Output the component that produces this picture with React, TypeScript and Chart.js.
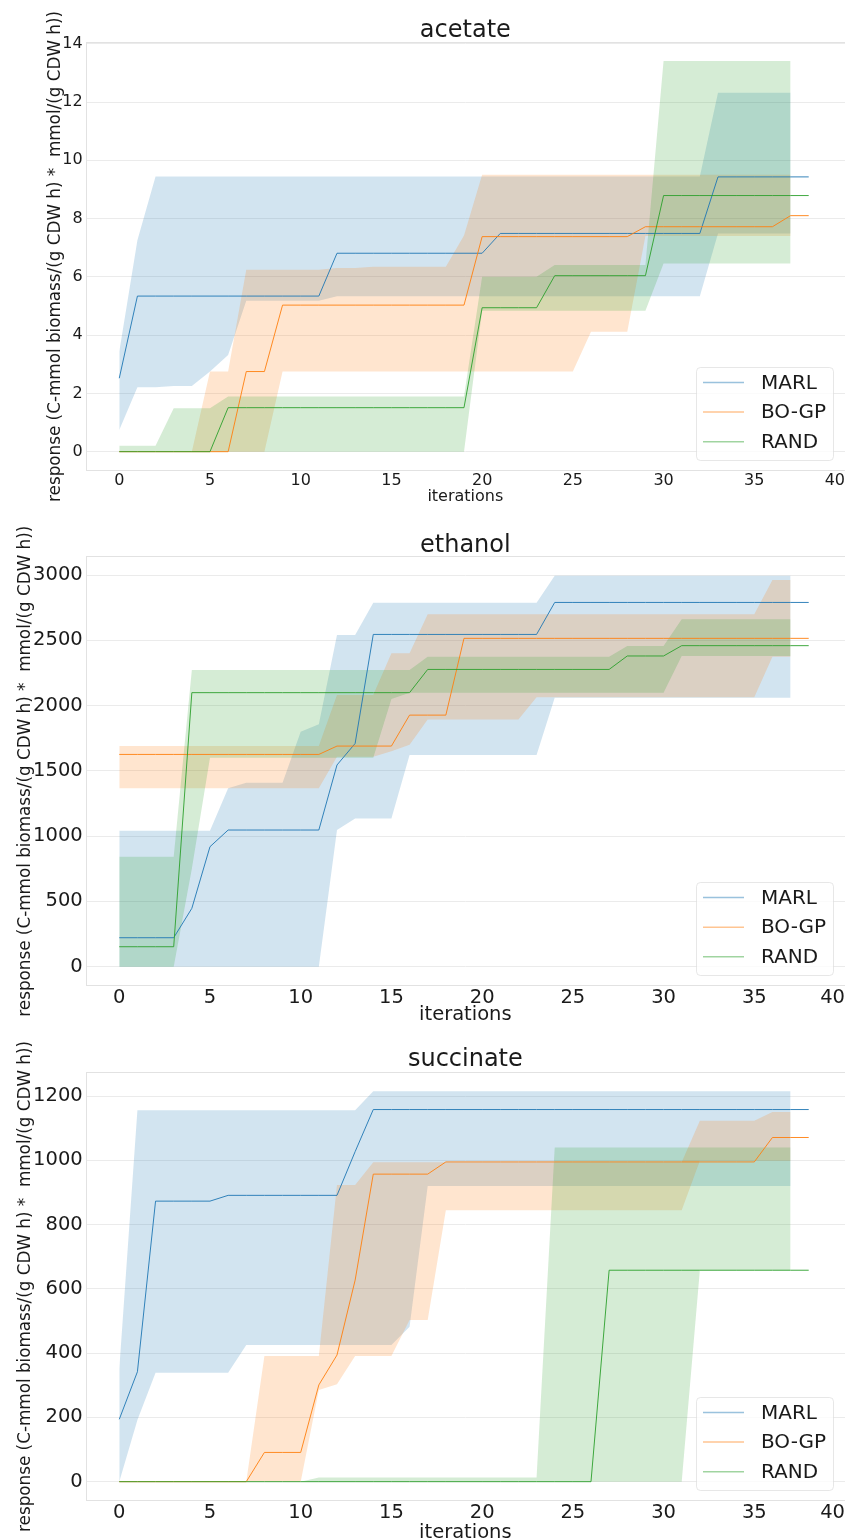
import React, { useEffect, useRef } from 'react';
import { Chart, registerables } from 'chart.js';

Chart.register(...registerables);

// ---------- shared axes ----------
const LINE_X = [0, 1, 2, 3, 4, 5, 6, 7, 8, 9, 10, 11, 12, 13, 14, 15, 16, 17, 18, 19, 20, 21, 22, 23, 24, 25, 26, 27, 28, 29, 30, 31, 32, 33, 34, 35, 36, 37, 38];
const BAND_X = [0, 1, 2, 3, 4, 5, 6, 7, 8, 9, 10, 11, 12, 13, 14, 15, 16, 17, 18, 19, 20, 21, 22, 23, 24, 25, 26, 27, 28, 29, 30, 31, 32, 33, 34, 35, 36, 37];
const X_TICKS = [0, 5, 10, 15, 20, 25, 30, 35, 40];
const METHODS = ['MARL', 'BO-GP', 'RAND'];
const Y_LABEL = 'response (C-mmol biomass/(g CDW h) *  mmol/(g CDW h))';
const X_LABEL = 'iterations';

// ---------- acetate ----------
const ACE_TICKS = [0, 2, 4, 6, 8, 10, 12, 14];
const ACE_MARL = [2.52,
  5.34, 5.34, 5.34, 5.34, 5.34, 5.34, 5.34, 5.34, 5.34, 5.34, 5.34,
  6.81, 6.81, 6.81, 6.81, 6.81, 6.81, 6.81, 6.81, 6.81,
  7.49, 7.49, 7.49, 7.49, 7.49, 7.49, 7.49, 7.49, 7.49, 7.49, 7.49, 7.49,
  9.43, 9.43, 9.43, 9.43, 9.43, 9.43];
const ACE_MARL_HI = [3.43, 7.26,
  9.44, 9.44, 9.44, 9.44, 9.44, 9.44, 9.44, 9.44, 9.44, 9.44, 9.44, 9.44, 9.44, 9.44, 9.44, 9.44,
  9.44, 9.44, 9.44, 9.44, 9.44, 9.44, 9.44, 9.44, 9.44, 9.44, 9.44, 9.44, 9.44, 9.44, 9.44,
  12.32, 12.32, 12.32, 12.32, 12.32];
const ACE_MARL_LO = [0.74, 2.21, 2.21, 2.25, 2.25, 2.75, 3.32,
  5.18, 5.18, 5.18, 5.18, 5.18,
  5.33, 5.33, 5.33, 5.33, 5.33, 5.33, 5.33, 5.33, 5.33, 5.33, 5.33, 5.33, 5.33, 5.33, 5.33, 5.33, 5.33, 5.33, 5.33, 5.33, 5.33,
  7.49, 7.49, 7.49, 7.49, 7.49];
const ACE_BO = [0, 0, 0, 0, 0, 0, 0,
  2.75, 2.75,
  5.03, 5.03, 5.03, 5.03, 5.03, 5.03, 5.03, 5.03, 5.03, 5.03, 5.03,
  7.38, 7.38, 7.38, 7.38, 7.38, 7.38, 7.38, 7.38, 7.38,
  7.72, 7.72, 7.72, 7.72, 7.72, 7.72, 7.72, 7.72,
  8.1, 8.1];
const ACE_BO_HI = [0, 0, 0, 0, 0, 2.75, 2.75,
  6.24, 6.24, 6.24, 6.24, 6.24, 6.3, 6.3,
  6.35, 6.35, 6.35, 6.35, 6.35, 7.42,
  9.5, 9.5, 9.5, 9.5, 9.5, 9.5, 9.5, 9.5, 9.5, 9.5, 9.5, 9.5, 9.5, 9.5, 9.5, 9.5, 9.5, 9.5];
const ACE_BO_LO = [0, 0, 0, 0, 0, 0, 0, 0, 0,
  2.75, 2.75, 2.75, 2.75, 2.75, 2.75, 2.75, 2.75, 2.75, 2.75, 2.75, 2.75, 2.75, 2.75, 2.75, 2.75, 2.75,
  4.12, 4.12, 4.12,
  7.4, 7.4, 7.4, 7.4, 7.4, 7.4, 7.4, 7.4, 7.4];
const ACE_RAND = [0, 0, 0, 0, 0, 0,
  1.51, 1.51, 1.51, 1.51, 1.51, 1.51, 1.51, 1.51, 1.51, 1.51, 1.51, 1.51, 1.51, 1.51,
  4.94, 4.94, 4.94, 4.94,
  6.04, 6.04, 6.04, 6.04, 6.04, 6.04,
  8.79, 8.79, 8.79, 8.79, 8.79, 8.79, 8.79, 8.79, 8.79];
const ACE_RAND_HI = [0.2, 0.2, 0.2, 1.49, 1.49, 1.49,
  1.89, 1.89, 1.89, 1.89, 1.89, 1.89, 1.89, 1.89, 1.89, 1.89, 1.89, 1.89, 1.89, 1.89,
  6.0, 6.0, 6.0, 6.0,
  6.41, 6.41, 6.41, 6.41, 6.41, 6.41,
  13.41, 13.41, 13.41, 13.41, 13.41, 13.41, 13.41, 13.41];
const ACE_RAND_LO = [0, 0, 0, 0, 0, 0, 0, 0, 0, 0, 0, 0, 0, 0, 0, 0, 0, 0, 0, 0,
  4.84, 4.84, 4.84, 4.84, 4.84, 4.84, 4.84, 4.84, 4.84, 4.84,
  6.46, 6.46, 6.46, 6.46, 6.46, 6.46, 6.46, 6.46];

// ---------- ethanol ----------
const ETH_TICKS = [0, 500, 1000, 1500, 2000, 2500, 3000];
const ETH_MARL = [222, 222, 222, 222, 447, 919,
  1047, 1047, 1047, 1047, 1047, 1047, 1545, 1710,
  2545, 2545, 2545, 2545, 2545, 2545, 2545, 2545, 2545, 2545,
  2790, 2790, 2790, 2790, 2790, 2790, 2790, 2790, 2790, 2790, 2790, 2790, 2790, 2790, 2790];
const ETH_MARL_HI = [1042, 1042, 1042, 1042, 1042, 1042, 1366, 1409, 1409, 1409, 1800, 1858, 2540, 2540,
  2788, 2788, 2788, 2788, 2788, 2788, 2788, 2788, 2788, 2788,
  2995, 2995, 2995, 2995, 2995, 2995, 2995, 2995, 2995, 2995, 2995, 2995, 2995, 2995];
const ETH_MARL_LO = [0, 0, 0, 0, 0, 0, 0, 0, 0, 0, 0, 0, 1047, 1136, 1136, 1136,
  1621, 1621, 1621, 1621, 1621, 1621, 1621, 1621,
  2060, 2060, 2060, 2060, 2060, 2060, 2060, 2060, 2060, 2060, 2060, 2060, 2060, 2060];
const ETH_BO = [1626, 1626, 1626, 1626, 1626, 1626, 1626, 1626, 1626, 1626, 1626, 1626,
  1690, 1690, 1690, 1690, 1927, 1927, 1927,
  2515, 2515, 2515, 2515, 2515, 2515, 2515, 2515, 2515, 2515, 2515, 2515, 2515, 2515, 2515, 2515, 2515, 2515, 2515, 2515];
const ETH_BO_HI = [1690, 1690, 1690, 1690, 1690, 1690, 1690, 1690, 1690, 1690, 1690, 1690,
  2081, 2081, 2081, 2400, 2400,
  2699, 2699, 2699, 2699, 2699, 2699, 2699, 2699, 2699, 2699, 2699, 2699, 2699, 2699, 2699, 2699, 2699, 2699, 2699,
  2961, 2961];
const ETH_BO_LO = [1366, 1366, 1366, 1366, 1366, 1366, 1366, 1366, 1366, 1366, 1366, 1366,
  1608, 1608, 1608, 1650, 1700,
  1894, 1894, 1894, 1894, 1894, 1894,
  2063, 2063, 2063, 2063, 2063, 2063, 2063, 2063, 2063, 2063, 2063, 2063, 2063,
  2375, 2375];
const ETH_RAND = [153, 153, 153, 153,
  2099, 2099, 2099, 2099, 2099, 2099, 2099, 2099, 2099, 2099, 2099, 2099, 2099,
  2277, 2277, 2277, 2277, 2277, 2277, 2277, 2277, 2277, 2277, 2277,
  2380, 2380, 2380,
  2459, 2459, 2459, 2459, 2459, 2459, 2459, 2459];
const ETH_RAND_HI = [842, 842, 842, 842,
  2272, 2272, 2272, 2272, 2272, 2272, 2272, 2272, 2272, 2272, 2272, 2272, 2272,
  2375, 2375, 2375, 2375, 2375, 2375, 2375, 2375, 2375, 2375, 2375,
  2456, 2456, 2456,
  2662, 2662, 2662, 2662, 2662, 2662, 2662];
const ETH_RAND_LO = [0, 0, 0, 0, 750,
  1601, 1601, 1601, 1601, 1601, 1601, 1601, 1601, 1601, 1601,
  2050,
  2099, 2099, 2099, 2099, 2099, 2099, 2099, 2099, 2099, 2099, 2099, 2099, 2099, 2099, 2099,
  2380, 2380, 2380, 2380, 2380, 2380, 2380];

// ---------- succinate ----------
const SUC_TICKS = [0, 200, 400, 600, 800, 1000, 1200];
const SUC_MARL = [194, 342, 873, 873, 873, 873,
  891, 891, 891, 891, 891, 891, 891, 1027,
  1158, 1158, 1158, 1158, 1158, 1158, 1158, 1158, 1158, 1158, 1158, 1158, 1158,
  1158, 1158, 1158, 1158, 1158, 1158, 1158, 1158, 1158, 1158, 1158, 1158];
const SUC_MARL_HI = [350,
  1156, 1156, 1156, 1156, 1156, 1156, 1156, 1156, 1156, 1156, 1156, 1156, 1156,
  1215, 1215, 1215, 1215, 1215, 1215, 1215, 1215, 1215, 1215, 1215, 1215,
  1215, 1215, 1215, 1215, 1215, 1215, 1215, 1215, 1215, 1215, 1215, 1215];
const SUC_MARL_LO = [0, 192, 339, 339, 339, 339, 339,
  425, 425, 425, 425, 425, 425, 425, 425, 425, 482,
  920, 920, 920, 920, 920, 920, 920, 920, 920, 920, 920,
  920, 920, 920, 920, 920, 920, 920, 920, 920, 920];
const SUC_BO = [0, 0, 0, 0, 0, 0, 0, 0, 91, 91, 91, 301, 394, 627,
  957, 957, 957, 957,
  995, 995, 995, 995, 995, 995, 995, 995, 995, 995, 995, 995, 995, 995, 995, 995, 995, 995,
  1071, 1071, 1071];
const SUC_BO_HI = [0, 0, 0, 0, 0, 0, 0, 0, 391, 391, 391, 391, 923, 923,
  994, 994, 994, 994, 994, 994, 994, 994, 994, 994, 994, 994, 994, 994, 994, 994, 994, 994,
  1123, 1123, 1123, 1123, 1150, 1150];
const SUC_BO_LO = [0, 0, 0, 0, 0, 0, 0, 0, 0, 0, 0, 285, 303, 391, 391, 391, 503, 503,
  845, 845, 845, 845, 845, 845, 845, 845, 845, 845, 845, 845, 845, 845,
  999, 999, 999, 999, 999, 999];
const SUC_RAND = [0, 0, 0, 0, 0, 0, 0, 0, 0, 0, 0, 0, 0, 0, 0, 0, 0, 0, 0, 0, 0, 0, 0, 0, 0, 0, 0,
  658, 658, 658, 658, 658, 658, 658, 658, 658, 658, 658, 658];
const SUC_RAND_HI = [0, 0, 0, 0, 0, 0, 0, 0, 0, 0, 0,
  13, 13, 13, 13, 13, 13, 13, 13, 13, 13, 13, 13, 13,
  1040, 1040, 1040, 1040, 1040, 1040, 1040, 1040, 1040, 1040, 1040, 1040, 1040, 1040];
const SUC_RAND_LO = [0, 0, 0, 0, 0, 0, 0, 0, 0, 0, 0, 0, 0, 0, 0, 0, 0, 0, 0, 0, 0, 0, 0, 0, 0, 0, 0, 0, 0, 0, 0, 0,
  658, 658, 658, 658, 658, 658];

// ---------- style ----------
const FONT = '"DejaVu Sans", "Liberation Sans", sans-serif';
const TEXT = '#1a1a1a';
const GRID = '#ebebeb';
const FRAME = '#e2e2e2';
const RGB = ['31,119,180', '255,127,14', '44,160,44'];

type PanelCfg = {
  title: string;
  top: number;
  height: number;
  yMin: number;
  yMax: number;
  yTicks: number[];
  series: { line: number[]; hi: number[]; lo: number[] }[];
  titlePad: { top: number; bottom: number };
  xAxisHeight: number;
  xTitlePadBottom: number;
  yTitlePadTop: number;
  tickSize: number;
};

const PANELS: PanelCfg[] = [
  {
    title: 'acetate', top: 0, height: 510, yMin: -0.67, yMax: 14.07, yTicks: ACE_TICKS,
    series: [
      { line: ACE_MARL, hi: ACE_MARL_HI, lo: ACE_MARL_LO },
      { line: ACE_BO, hi: ACE_BO_HI, lo: ACE_BO_LO },
      { line: ACE_RAND, hi: ACE_RAND_HI, lo: ACE_RAND_LO },
    ],
    titlePad: { top: 18.5, bottom: -0.8 }, xAxisHeight: 38.8, xTitlePadBottom: 4.8, yTitlePadTop: 47, tickSize: 16,
  },
  {
    title: 'ethanol', top: 510, height: 515, yMin: -150, yMax: 3145, yTicks: ETH_TICKS,
    series: [
      { line: ETH_MARL, hi: ETH_MARL_HI, lo: ETH_MARL_LO },
      { line: ETH_BO, hi: ETH_BO_HI, lo: ETH_BO_LO },
      { line: ETH_RAND, hi: ETH_RAND_HI, lo: ETH_RAND_LO },
    ],
    titlePad: { top: 23.5, bottom: -1.4 }, xAxisHeight: 38.7, xTitlePadBottom: 0, yTitlePadTop: 17.4, tickSize: 19.5,
  },
  {
    title: 'succinate', top: 1025, height: 515, yMin: -60.75, yMax: 1275.75, yTicks: SUC_TICKS,
    series: [
      { line: SUC_MARL, hi: SUC_MARL_HI, lo: SUC_MARL_LO },
      { line: SUC_BO, hi: SUC_BO_HI, lo: SUC_BO_LO },
      { line: SUC_RAND, hi: SUC_RAND_HI, lo: SUC_RAND_LO },
    ],
    titlePad: { top: 22.8, bottom: -0.1 }, xAxisHeight: 38.8, xTitlePadBottom: -2.5, yTitlePadTop: 17.4, tickSize: 19.5,
  },
];

const toPts = (xs: number[], ys: number[]) => ys.map((y, i) => ({ x: xs[i], y }));

const framePlugin = {
  id: 'frame',
  beforeDatasetsDraw(chart: any) {
    const { ctx, chartArea: a } = chart;
    ctx.save();
    ctx.strokeStyle = FRAME;
    ctx.lineWidth = 1;
    ctx.strokeRect(Math.round(a.left) + 0.5, Math.round(a.top) + 0.5, a.right - a.left + 2, Math.round(a.bottom) - Math.round(a.top) - 1);
    ctx.restore();
  },
};

const legendPlugin = {
  id: 'boxLegend',
  afterDraw(chart: any) {
    const { ctx, chartArea: a } = chart;
    const items = chart.data.datasets.filter((d: any) => d.isLine);
    const left = 696.5, right = 833.5;
    const top = Math.round(a.bottom - 104.5) + 0.5;
    const bottom = Math.round(a.bottom - 11) + 0.5;
    const r = 4;
    ctx.save();
    ctx.beginPath();
    ctx.moveTo(left + r, top);
    ctx.lineTo(right - r, top);
    ctx.quadraticCurveTo(right, top, right, top + r);
    ctx.lineTo(right, bottom - r);
    ctx.quadraticCurveTo(right, bottom, right - r, bottom);
    ctx.lineTo(left + r, bottom);
    ctx.quadraticCurveTo(left, bottom, left, bottom - r);
    ctx.lineTo(left, top + r);
    ctx.quadraticCurveTo(left, top, left + r, top);
    ctx.closePath();
    ctx.fillStyle = 'rgba(255,255,255,0.8)';
    ctx.fill();
    ctx.strokeStyle = 'rgba(215,215,215,0.6)';
    ctx.lineWidth = 1;
    ctx.stroke();
    items.forEach((d: any, i: number) => {
      const cy = a.bottom - 88.7 + i * 29.6;
      ctx.strokeStyle = d.legendColor;
      ctx.lineWidth = 1.5;
      ctx.beginPath();
      ctx.moveTo(703, cy);
      ctx.lineTo(744, cy);
      ctx.stroke();
      ctx.fillStyle = TEXT;
      ctx.font = `20px ${FONT}`;
      ctx.textBaseline = 'middle';
      ctx.textAlign = 'left';
      ctx.fillText(d.label, 761, cy + 1);
    });
    ctx.restore();
  },
};

function Panel({ cfg }: { cfg: PanelCfg }) {
  const ref = useRef<HTMLCanvasElement>(null);
  useEffect(() => {
    if (!ref.current) return;
    const datasets: any[] = [];
    cfg.series.forEach((s, k) => {
      datasets.push({
        label: METHODS[k] + ' lower', data: toPts(BAND_X, s.lo), borderColor: 'rgba(0,0,0,0)', borderWidth: 0,
        pointRadius: 0, fill: false, order: 30 - k * 10,
      });
      datasets.push({
        label: METHODS[k] + ' upper', data: toPts(BAND_X, s.hi), borderColor: 'rgba(0,0,0,0)', borderWidth: 0,
        pointRadius: 0, fill: '-1', backgroundColor: `rgba(${RGB[k]},0.2)`, order: 30 - k * 10,
      });
    });
    cfg.series.forEach((s, k) => {
      datasets.push({
        label: METHODS[k], isLine: true, legendColor: `rgba(${RGB[k]},0.45)`,
        data: toPts(LINE_X, s.line), borderColor: `rgba(${RGB[k]},0.9)`, borderWidth: 1,
        pointRadius: 0, fill: false, tension: 0, order: 3 - k,
      });
    });
    const tickFont = { family: FONT, size: cfg.tickSize, lineHeight: 1 };
    const chart = new Chart(ref.current, {
      type: 'line',
      data: { datasets },
      plugins: [framePlugin, legendPlugin],
      options: {
        responsive: false,
        animation: false,
        devicePixelRatio: 1,
        layout: { padding: 0 },
        events: [],
        plugins: {
          legend: { display: false },
          tooltip: { enabled: false },
          title: {
            display: true, text: cfg.title, color: TEXT, fullSize: false,
            font: { family: FONT, size: 24, weight: 'normal', lineHeight: 1 },
            padding: cfg.titlePad,
          },
        },
        scales: {
          x: {
            type: 'linear', min: -1.85, max: 40,
            grid: { display: false, drawTicks: false },
            border: { display: false },
            afterBuildTicks: (s: any) => {
              s.ticks = [{ value: -1.85 }, ...X_TICKS.map((v) => ({ value: v }))];
            },
            afterFit: (s: any) => {
              s.height = cfg.xAxisHeight;
              s.paddingLeft = 0;
              s.paddingRight = 0;
            },
            ticks: {
              align: 'inner', padding: 1.5, color: TEXT, font: tickFont, maxRotation: 0, autoSkip: false,
              callback: (v: any) => (X_TICKS.includes(v) ? String(v) : ''),
            },
            title: {
              display: true, text: X_LABEL, color: TEXT, font: { family: FONT, size: cfg.tickSize, lineHeight: 1 },
              padding: { top: 0, bottom: cfg.xTitlePadBottom },
            },
          },
          y: {
            type: 'linear', min: cfg.yMin, max: cfg.yMax,
            grid: { color: GRID, lineWidth: 1, drawTicks: false },
            border: { display: false },
            afterBuildTicks: (s: any) => {
              s.ticks = cfg.yTicks.map((v) => ({ value: v }));
            },
            afterFit: (s: any) => {
              s.width = 85.7;
            },
            ticks: { padding: 3, color: TEXT, font: tickFont, autoSkip: false, callback: (v: any) => String(v) },
            title: {
              display: true, text: Y_LABEL, color: TEXT, font: { family: FONT, size: 16.8, lineHeight: 1 },
              padding: { top: cfg.yTitlePadTop, bottom: 0 },
            },
          },
        },
      } as any,
    });
    return () => chart.destroy();
  }, [cfg]);
  return (
    <canvas
      ref={ref}
      width={845}
      height={cfg.height}
      style={{ position: 'absolute', left: 0, top: cfg.top, width: 845, height: cfg.height, display: 'block' }}
    />
  );
}

export default function App() {
  return (
    <div style={{ position: 'absolute', left: 0, top: 0, width: 845, height: 1540, background: '#ffffff', overflow: 'hidden' }}>
      {PANELS.map((p) => (
        <Panel key={p.title} cfg={p} />
      ))}
    </div>
  );
}
